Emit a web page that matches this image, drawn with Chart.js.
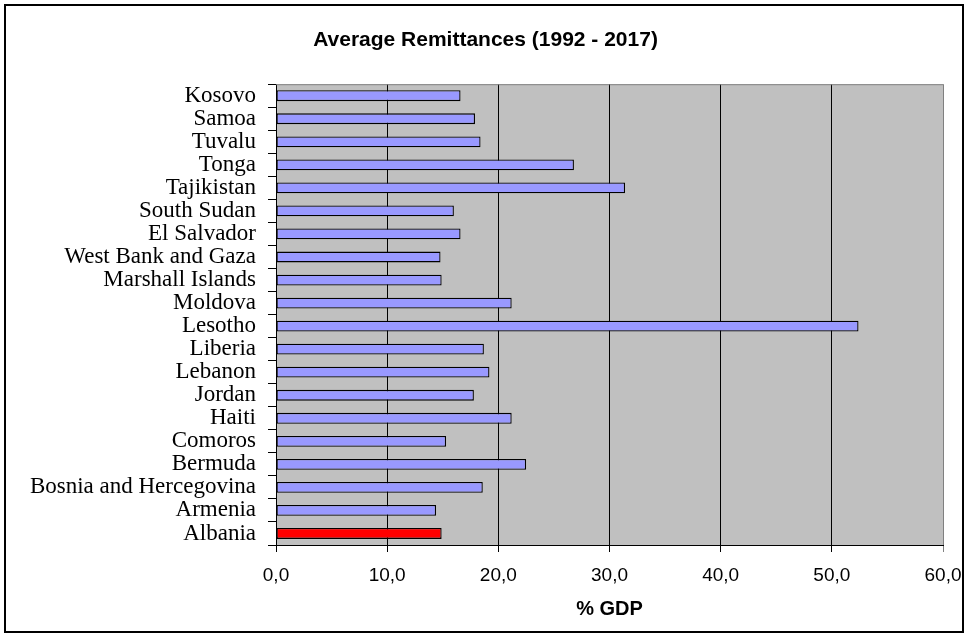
<!DOCTYPE html>
<html>
<head>
<meta charset="utf-8">
<script src="https://cdn.jsdelivr.net/npm/chart.js@4/dist/chart.umd.min.js"></script>
<style>
  html, body { margin: 0; padding: 0; background: #fff; }
  canvas { display: block; }
</style>
</head>
<body>
<canvas id="chart" width="969" height="638"></canvas>
<script>
// countries, top to bottom as in the picture
var countries = ["Kosovo", "Samoa", "Tuvalu", "Tonga", "Tajikistan", "South Sudan", "El Salvador",
    "West Bank and Gaza", "Marshall Islands", "Moldova", "Lesotho", "Liberia", "Lebanon", "Jordan",
    "Haiti", "Comoros", "Bermuda", "Bosnia and Hercegovina", "Armenia", "Albania"];
// average remittances, % of GDP
var remittances = [16.6, 17.9, 18.4, 26.8, 31.4, 16.0, 16.6, 14.8, 14.9, 21.2, 52.4, 18.7, 19.2, 17.8,
    21.2, 15.3, 22.5, 18.6, 14.4, 14.9];
var highlight = "Albania";
var xTicks = [0, 10, 20, 30, 40, 50, 60];

var barColors = countries.map(function (c) { return c == highlight ? "#FF0000" : "#9999FF"; });

// plot background, top border and outer frame
var frame = {
    id: "frame",
    beforeDraw: function (chart) {
        var ctx = chart.ctx, a = chart.chartArea;
        ctx.save();
        ctx.fillStyle = "#fff";
        ctx.fillRect(0, 0, chart.width, chart.height);
        ctx.fillStyle = "#C0C0C0";
        ctx.fillRect(a.left, a.top, a.right - a.left, a.bottom - a.top);
        ctx.restore();
    },
    afterDraw: function (chart) {
        var ctx = chart.ctx, a = chart.chartArea;
        ctx.save();
        ctx.strokeStyle = "#808080";
        ctx.lineWidth = 1;
        ctx.beginPath();
        ctx.moveTo(a.left, a.top + 0.5);
        ctx.lineTo(a.right, a.top + 0.5);
        ctx.stroke();
        ctx.strokeStyle = "#000";
        ctx.lineWidth = 2;
        ctx.strokeRect(5, 5, 958, 627);
        ctx.restore();
    }
};

new Chart(document.getElementById("chart"), {
    type: "bar",
    data: {
        labels: countries,
        datasets: [{
            label: "% GDP",
            data: remittances,
            backgroundColor: barColors,
            borderColor: "#000",
            borderWidth: 1.3,
            borderSkipped: false,
            barPercentage: 0.47,
            categoryPercentage: 1
        }]
    },
    options: {
        indexAxis: "y",
        responsive: false,
        animation: false,
        layout: { padding: { left: 28, right: 26, top: 0, bottom: 0 } },
        plugins: {
            legend: { display: false },
            tooltip: { enabled: false },
            title: {
                display: true,
                text: "Average Remittances (1992 - 2017)",
                color: "#000",
                font: { family: "'Liberation Sans', Arial", size: 21, weight: "bold" },
                padding: { top: 28, bottom: 31 }
            }
        },
        scales: {
            x: {
                min: 0,
                max: 60,
                afterBuildTicks: function (scale) {
                    scale.ticks = xTicks.map(function (v) { return { value: v }; });
                },
                afterFit: function (scale) {
                    scale.height = 93;
                    scale.paddingRight = 20;
                },
                ticks: {
                    color: "#000",
                    padding: 12,
                    font: { family: "'Liberation Sans', Arial", size: 19 },
                    callback: function (value) { return value.toFixed(1).replace(".", ","); }
                },
                grid: {
                    color: function (c) { return c.tick && c.tick.value == 60 ? "#808080" : "#000"; },
                    lineWidth: 1,
                    tickLength: 7
                },
                border: { display: true, color: "#000", width: 1 },
                title: {
                    display: true,
                    text: "% GDP",
                    color: "#000",
                    font: { family: "'Liberation Sans', Arial", size: 20, weight: "bold" },
                    padding: { top: 0, bottom: 17 }
                }
            },
            y: {
                afterFit: function (scale) { scale.width = 248; },
                ticks: {
                    color: "#000",
                    padding: 12,
                    autoSkip: false,
                    font: { family: "'Liberation Serif', 'Times New Roman'", size: 23 }
                },
                grid: {
                    drawOnChartArea: false,
                    color: "#000",
                    tickLength: 8
                },
                border: { display: true, color: "#000", width: 1 }
            }
        }
    },
    plugins: [frame]
});
</script>
</body>
</html>
